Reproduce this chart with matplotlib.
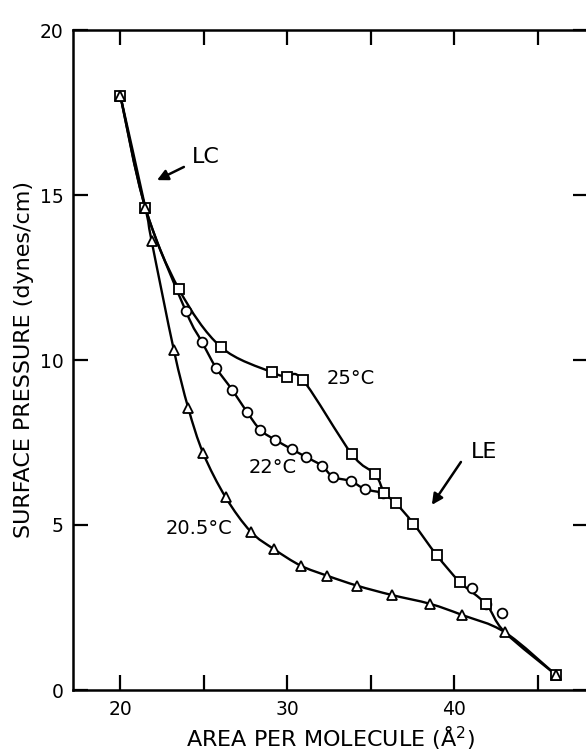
import numpy as np
import matplotlib
matplotlib.use("Agg")
import matplotlib.pyplot as plt
from matplotlib.path import Path
from matplotlib.patches import PathPatch

# surface pressure isotherms
area_25 = [20.0, 21.5, 23.5, 26.0, 29.05, 29.95, 30.95, 33.85, 35.25, 35.8, 36.5, 37.55, 38.95, 40.35, 41.9, 46.1]
pi_25 = [18.0, 14.6, 12.15, 10.4, 9.63, 9.5, 9.38, 7.15, 6.54, 5.98, 5.66, 5.04, 4.08, 3.26, 2.6, 0.45]

area_22 = [23.92, 24.88, 25.72, 26.7, 27.57, 28.38, 29.27, 30.25, 31.12, 32.05, 32.74, 33.8, 34.64, 35.74, 41.03, 41.91, 42.86]
pi_22 = [11.48, 10.55, 9.77, 9.09, 8.43, 7.88, 7.58, 7.3, 7.06, 6.8, 6.46, 6.33, 6.09, 5.98, 3.08, 2.6, 2.32]

area_205 = [20.0, 21.5, 21.87, 23.2, 24.06, 24.96, 26.3, 27.8, 29.19, 30.79, 32.4, 34.18, 36.24, 38.55, 40.48, 43.02, 46.1]
pi_205 = [18.0, 14.6, 13.6, 10.3, 8.55, 7.17, 5.84, 4.8, 4.27, 3.77, 3.46, 3.16, 2.88, 2.61, 2.27, 1.75, 0.45]

x_ticks = [20, 25, 30, 35, 40, 45]
x_labels = ["20", "", "30", "", "40", ""]
y_ticks = [0, 5, 10, 15, 20]


def smooth_path(xs, ys):
    """catmull-rom curve through the points, drawn as bezier segments"""
    pts = np.column_stack([xs, ys])
    n = len(pts)
    verts, codes = [pts[0]], [Path.MOVETO]
    for i in range(n - 1):
        p0, p1, p2, p3 = pts[max(i - 1, 0)], pts[i], pts[i + 1], pts[min(i + 2, n - 1)]
        verts += [p1 + (p2 - p0) / 6, p2 - (p3 - p1) / 6, p2]
        codes += [Path.CURVE4] * 3
    return Path(verts, codes)


plt.rcParams['font.family'] = ['DejaVu Sans']
fig = plt.figure(figsize=(5.86, 7.52), dpi=100, facecolor="white")
ax = fig.add_axes([73 / 586, 62 / 752, 515 / 586, 660 / 752])

lw = 1.7
# 25 C curve joins the 20.5 C curve near 43 A^2
line25_x = area_25[:-1] + [area_205[-2], area_25[-1]]
line25_y = pi_25[:-1] + [pi_205[-2], pi_25[-1]]
# 22 C curve leaves from the common start and merges into the 25 C curve
n22 = 14
line22_x = area_25[:2] + area_22[:n22]
line22_y = pi_25[:2] + pi_22[:n22]

for xs, ys in [(line25_x, line25_y), (line22_x, line22_y), (area_205, pi_205)]:
    ax.add_patch(PathPatch(smooth_path(xs, ys), fill=False, lw=lw, color="black", zorder=2))

mk = dict(ls="none", mfc="white", mec="black", mew=1.3, zorder=3)
ax.plot(area_22, pi_22, marker="o", ms=7, **mk)
ax.plot(area_25, pi_25, marker="s", ms=7.3, **mk)
ax.plot(area_205, pi_205, marker="^", ms=6.5, **mk)

fs = 16
ax.text(33.8, 9.45, "25°C", fontsize=14, ha="center", va="center")
ax.text(29.13, 6.73, "22°C", fontsize=14, ha="center", va="center")
ax.text(24.7, 4.88, "20.5°C", fontsize=14, ha="center", va="center")

arrow = dict(arrowstyle="-|>", color="black", lw=1.8, mutation_scale=16, shrinkA=0, shrinkB=0)
ax.text(25.12, 16.15, "LC", fontsize=fs, ha="center", va="center")
ax.annotate("", xy=(22.19, 15.45), xytext=(23.8, 15.85), arrowprops=arrow)
ax.text(41.77, 7.21, "LE", fontsize=fs, ha="center", va="center")
ax.annotate("", xy=(38.65, 5.61), xytext=(40.39, 6.91), arrowprops=arrow)

ax.set_xlim(17.16, 48.0)
ax.set_ylim(0, 20)
ax.set_xticks(x_ticks)
ax.set_xticklabels(x_labels)
ax.set_yticks(y_ticks)
ax.tick_params(direction="in", length=11, width=1.6, labelsize=13.5, pad=7,
               top=True, right=True)
for s in ax.spines.values():
    s.set_linewidth(1.8)

ax.set_xlabel("AREA PER MOLECULE (Å$^2$)", fontsize=fs, labelpad=4)
ax.set_ylabel("SURFACE PRESSURE (dynes/cm)", fontsize=fs, labelpad=4)

fig.savefig("out.png", dpi=100, facecolor="white")
